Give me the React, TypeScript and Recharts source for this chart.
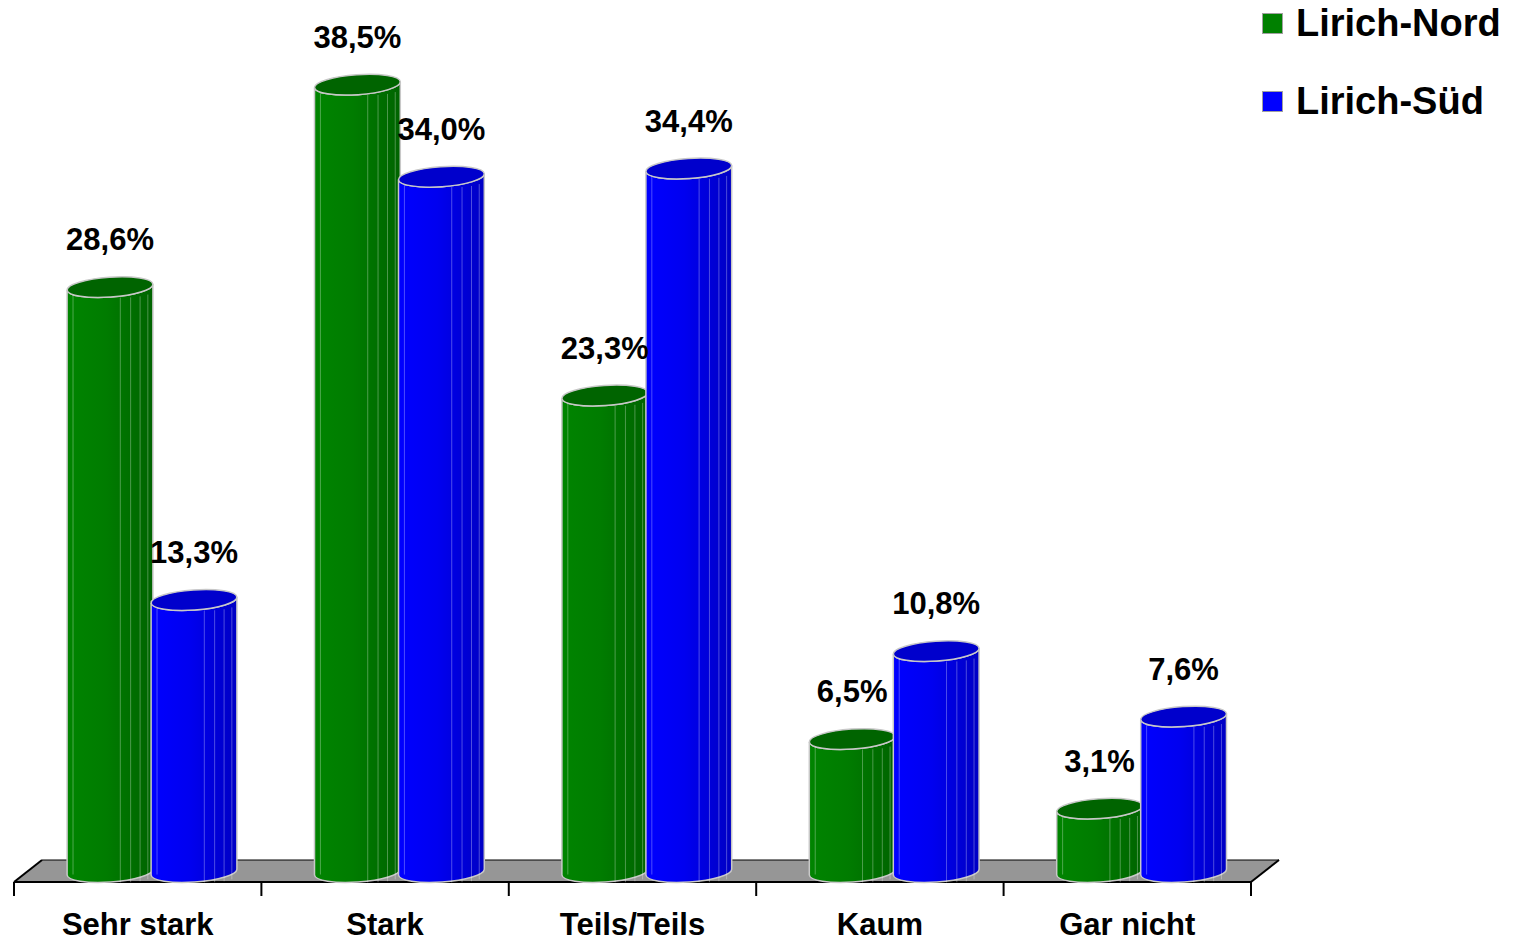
import React from 'react';
import { BarChart, Bar, XAxis, YAxis, LabelList } from 'recharts';

const categories = ['Sehr stark', 'Stark', 'Teils/Teils', 'Kaum', 'Gar nicht'];
const nordValues = [28.6, 38.5, 23.3, 6.5, 3.1];
const suedValues = [13.3, 34.0, 34.4, 10.8, 7.6];
const seriesNames = ['Lirich-Nord', 'Lirich-Süd'];

const W = 1517;
const H = 941;
const ML = 14;
const MR = 266;
const MT = 54;
const AXIS_H = 69;
const FONT = '"Liberation Sans", Arial, sans-serif';
const BAND = (W - ML - MR) / categories.length;
const DEPTH = 28;
const SHIFT = DEPTH / 2; // cylinders stand mid-depth on the floor

const chartData = categories.map((name, i) => ({
  name,
  nord: nordValues[i],
  sued: suedValues[i],
}));

const fmt = (v: number) => v.toFixed(1).replace('.', ',') + '%';

// gray floor, drawn with the first bar so it sits under all cylinders
const Floor = ({ base }: { base: number }) => {
  const x0 = ML;
  const x1 = W - MR;
  const front = base + 10;
  const back = base - 12;
  return (
    <g>
      <polygon
        points={`${x0},${front} ${x1},${front} ${x1 + DEPTH},${back} ${x0 + DEPTH},${back}`}
        fill="#969696"
        stroke="none"
      />
      <line x1={x0 + DEPTH} x2={x1 + DEPTH} y1={back} y2={back} stroke="#000" strokeWidth={1} />
      <line x1={x0} x2={x0 + DEPTH} y1={front} y2={back} stroke="#000" strokeWidth={2} />
      <line x1={x1} x2={x1 + DEPTH} y1={front} y2={back} stroke="#000" strokeWidth={2} />
      <line x1={x0} x2={x1} y1={front} y2={front} stroke="#000" strokeWidth={2} />
    </g>
  );
};

// cylinder shape for the 3d look
const Cylinder = (props: any) => {
  const { y, width, height, gradId, top, index, withFloor } = props;
  if (width == null || height == null) return null;
  const x = props.x + SHIFT;
  const rx = width / 2;
  const ry = 10;
  const a = (-4 * Math.PI) / 180;
  const cx = x + rx;
  const base = y + height;
  const dx = rx * Math.cos(a);
  const dy = rx * Math.sin(a);
  const L1 = [cx - dx, y - dy];
  const R1 = [cx + dx, y + dy];
  const L2 = [cx - dx, base - dy];
  const R2 = [cx + dx, base + dy];
  const rot = -4;
  const body = `M${L1[0]},${L1[1]} L${L2[0]},${L2[1]} A${rx},${ry} ${rot} 0 0 ${R2[0]},${R2[1]} L${R1[0]},${R1[1]} A${rx},${ry} ${rot} 0 1 ${L1[0]},${L1[1]} Z`;
  const facets = [0.07, 0.62, 0.74, 0.85, 0.94];
  return (
    <g>
      {withFloor && index === 0 && <Floor base={base} />}
      <path d={body} fill={`url(#${gradId})`} stroke="#c8c8c8" strokeWidth={1.5} />
      {facets.map((f, i) => {
        const fx = x + f * width;
        const t = (fx - cx) / rx;
        const off = ry * Math.sqrt(Math.max(0, 1 - t * t));
        const tilt = -t * dy;
        return (
          <line
            key={i}
            x1={fx}
            x2={fx}
            y1={y + off + tilt}
            y2={base + off + tilt}
            stroke="#ffffff"
            strokeOpacity={0.3}
            strokeWidth={1}
          />
        );
      })}
      <ellipse
        cx={cx}
        cy={y}
        rx={rx}
        ry={ry}
        transform={`rotate(${rot} ${cx} ${y})`}
        fill={top}
        stroke="#c8c8c8"
        strokeWidth={1.5}
      />
    </g>
  );
};

const CategoryTick = (props: any) => {
  const { x, y, payload, index } = props;
  const half = BAND / 2;
  const front = y + 10;
  const last = index === categories.length - 1;
  return (
    <g>
      <line x1={x - half} x2={x - half} y1={front} y2={front + 14} stroke="#000" strokeWidth={2} />
      {last && <line x1={x + half} x2={x + half} y1={front} y2={front + 14} stroke="#000" strokeWidth={2} />}
      <text
        x={x}
        y={y + 63}
        textAnchor="middle"
        fontFamily={FONT}
        fontWeight="bold"
        fontSize={31}
        fill="#000"
      >
        {payload.value}
      </text>
    </g>
  );
};

const ValueLabel = (props: any) => {
  const { x, y, width, value } = props;
  return (
    <text
      x={x + SHIFT + width / 2}
      y={y - 37}
      textAnchor="middle"
      fontFamily={FONT}
      fontWeight="bold"
      fontSize={31}
      fill="#000"
    >
      {fmt(value)}
    </text>
  );
};

const LegendBox = () => (
  <div
    style={{
      position: 'absolute',
      left: 1262,
      top: 0,
      fontFamily: FONT,
      fontWeight: 'bold',
      fontSize: 38,
      color: '#000',
    }}
  >
    {seriesNames.map((n, i) => (
      <div key={n} style={{ display: 'flex', alignItems: 'center', height: 78, marginTop: i === 0 ? -16 : 0 }}>
        <span
          style={{
            display: 'inline-block',
            width: 19,
            height: 19,
            background: i === 0 ? '#008000' : '#0000ff',
            border: '1px solid #a0a0a0',
            marginRight: 13,
          }}
        />
        <span>{n}</span>
      </div>
    ))}
  </div>
);

export default function App() {
  return (
    <div style={{ position: 'absolute', left: 0, top: 0, width: W, height: H, background: '#fff' }}>
      <BarChart
        width={W}
        height={H}
        data={chartData}
        margin={{ top: MT, right: MR, left: ML, bottom: 0 }}
        barSize={86}
        barGap={-2}
      >
        <defs>
          <linearGradient id="gGreen" x1="0" y1="0" x2="1" y2="0">
            <stop offset="0%" stopColor="#008400" />
            <stop offset="45%" stopColor="#007c00" />
            <stop offset="100%" stopColor="#006400" />
          </linearGradient>
          <linearGradient id="gBlue" x1="0" y1="0" x2="1" y2="0">
            <stop offset="0%" stopColor="#0000ff" />
            <stop offset="45%" stopColor="#0000f0" />
            <stop offset="100%" stopColor="#0000c4" />
          </linearGradient>
        </defs>
        <XAxis
          dataKey="name"
          height={AXIS_H}
          axisLine={false}
          tickLine={false}
          tickSize={0}
          tickMargin={0}
          interval={0}
          tick={<CategoryTick />}
        />
        <YAxis hide domain={[0, 40]} />
        <Bar
          dataKey="nord"
          name={seriesNames[0]}
          fill="#008000"
          isAnimationActive={false}
          shape={(p: any) => <Cylinder {...p} gradId="gGreen" top="#006400" withFloor />}
        >
          <LabelList dataKey="nord" content={<ValueLabel />} />
        </Bar>
        <Bar
          dataKey="sued"
          name={seriesNames[1]}
          fill="#0000ff"
          isAnimationActive={false}
          shape={(p: any) => <Cylinder {...p} gradId="gBlue" top="#0000cc" />}
        >
          <LabelList dataKey="sued" content={<ValueLabel />} />
        </Bar>
      </BarChart>
      <LegendBox />
    </div>
  );
}
